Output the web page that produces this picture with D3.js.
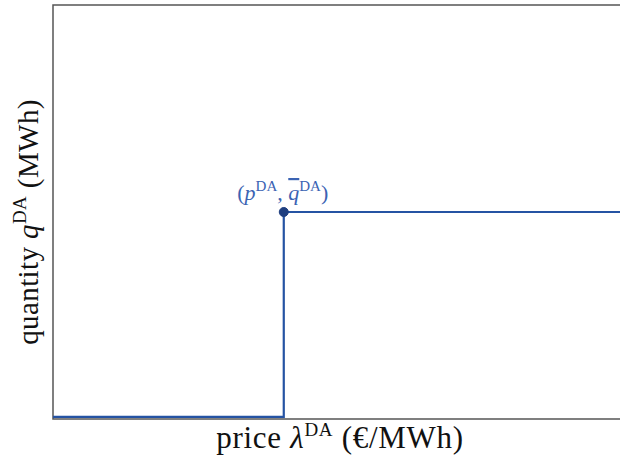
<!DOCTYPE html>
<html>
<head>
<meta charset="utf-8">
<script src="https://cdn.jsdelivr.net/npm/d3@7"></script>
<style>
body { margin:0; background:#fff; }
text { font-family: "Liberation Serif", "DejaVu Serif", serif; }
</style>
</head>
<body>
<svg></svg>
<script>
// bid curve, one step at the day-ahead price
var prices = [0, 4.07, 4.07, 10]
var quantities = [0.05, 0.05, 5.0, 5.0]
var bidPoint = {price: 4.07, qty: 5.0}

var screen = {width:620,height:462}
var margins = {top:5,right:0,left:53,bottom:43}

var svg = d3.select("svg")
    .attr("width",screen.width)
    .attr("height",screen.height)

var width = screen.width - margins.left - margins.right
var height = screen.height - margins.top - margins.bottom

var xScale = d3.scaleLinear().domain([0,10]).range([margins.left, margins.left+width])
var yScale = d3.scaleLinear().domain([0,10]).range([margins.top+height, margins.top])

var blue = "#2553a3"

// frame: left, top, bottom
svg.append("path")
    .attr("d", "M"+(screen.width)+","+yScale(10)+"H"+xScale(0)+"V"+yScale(0)+"H"+screen.width)
    .attr("fill","none")
    .attr("stroke","#555")
    .attr("stroke-width",1.5)

var pts = prices.map(function(p,i){ return [p, quantities[i]] })

var line = d3.line()
    .x(function(d){ return xScale(d[0]) })
    .y(function(d){ return yScale(d[1]) })

svg.append("path")
    .datum(pts)
    .attr("d", line)
    .attr("fill","none")
    .attr("stroke",blue)
    .attr("stroke-width",2.2)

svg.append("circle")
    .attr("cx", xScale(bidPoint.price))
    .attr("cy", yScale(bidPoint.qty))
    .attr("r",4.5)
    .attr("fill","#1f3f80")
    .attr("stroke","#1f3f80")
    .attr("stroke-width",1)

// point label
var lab = svg.append("text")
    .attr("x", xScale(bidPoint.price) - 1)
    .attr("y", yScale(bidPoint.qty) - 12)
    .attr("text-anchor","middle")
    .attr("fill","#3b63b3")
    .attr("font-size",22)
lab.append("tspan").text("(")
lab.append("tspan").attr("font-style","italic").text("p")
lab.append("tspan").attr("font-size",15).attr("dy",-9).text("DA")
lab.append("tspan").attr("dy",9).text(", ")
lab.append("tspan").attr("font-style","italic").attr("text-decoration","overline").text("q")
lab.append("tspan").attr("font-size",15).attr("dy",-9).text("DA")
lab.append("tspan").attr("dy",9).text(")")

// x label
var xl = svg.append("text")
    .attr("x", 340)
    .attr("y", 448)
    .attr("text-anchor","middle")
    .attr("fill","#111")
    .attr("font-size",31)
    .attr("letter-spacing",0.7)
xl.append("tspan").text("price ")
xl.append("tspan").attr("font-style","italic").text("λ")
xl.append("tspan").attr("font-size",19).attr("dy",-12).text("DA")
xl.append("tspan").attr("dy",12).text(" (€/MWh)")

// y label
var yl = svg.append("text")
    .attr("transform","translate(38,"+222+") rotate(-90)")
    .attr("text-anchor","middle")
    .attr("fill","#111")
    .attr("font-size",29)
    .attr("letter-spacing",0.4)
yl.append("tspan").text("quantity ")
yl.append("tspan").attr("font-style","italic").text("q")
yl.append("tspan").attr("font-size",19).attr("dy",-12).text("DA")
yl.append("tspan").attr("dy",12).text(" (MWh)")
</script>
</body>
</html>
